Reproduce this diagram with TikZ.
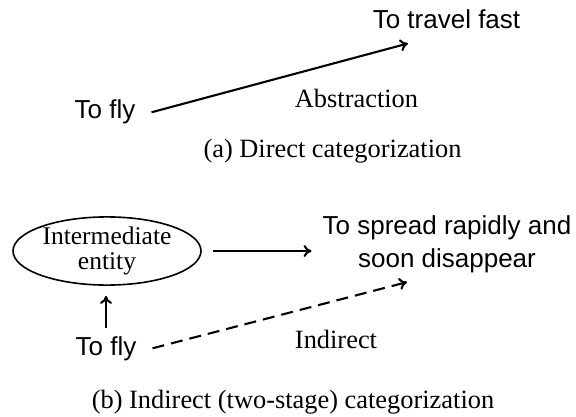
\documentclass[tikz,border=0pt]{standalone}
\usepackage{fontspec}
\setmainfont{Liberation Serif}
\setsansfont{Liberation Sans}
\usepackage{tikz}
\usetikzlibrary{shapes.geometric,arrows.meta}

\tikzset{
  verb/.style={font=\sffamily\fontsize{26}{33}\selectfont, inner sep=0pt, anchor=base, align=center},
  lbl/.style={font=\fontsize{26.4}{30}\selectfont, inner sep=0pt, anchor=base},
  arr/.style={line width=2.1pt, -{To[length=8pt,width=12pt]}},
}

\begin{document}
\begin{tikzpicture}[x=1pt,y=-1pt]
\useasboundingbox (0,0) rectangle (576,417);

% direct
\node[verb] (fast) at (446.5,29) {To travel fast};
\node[verb] (fly1) at (105,119) {To fly};
\draw[arr] ([xshift=16pt]fly1.east) -- ([xshift=-38.5pt,yshift=-14pt]fast.south);
\node[lbl] (abs) at (356.5,108) {Abstraction};
\node[lbl] (capa) at (332.5,158) {(a) Direct categorization};

% indirect
\node[draw, line width=1.6pt, ellipse, minimum width=188pt, minimum height=64pt, inner sep=0pt,
      align=center, font=\fontsize{25.5}{25}\selectfont] (ent) at (107,251) {Intermediate\\entity};
\node[verb] (spread) at (447,267) {To spread rapidly and\\soon disappear};
\node[verb] (fly2) at (106,355) {To fly};
\draw[arr, shorten <=11pt, shorten >=11pt] (ent.east) -- (ent.east -| spread.west);
\draw[arr, shorten <=8pt, shorten >=10pt] (fly2.north) -- (fly2.north |- ent.south);
\draw[arr, dash pattern=on 12pt off 7pt] ([xshift=16pt]fly2.east) -- ([xshift=-40pt,yshift=-9.5pt]spread.south);
\node[lbl] (ind) at (336,348) {Indirect};
\node[lbl] (capb) at (293,408) {(b) Indirect (two-stage) categorization};

\end{tikzpicture}
\end{document}
